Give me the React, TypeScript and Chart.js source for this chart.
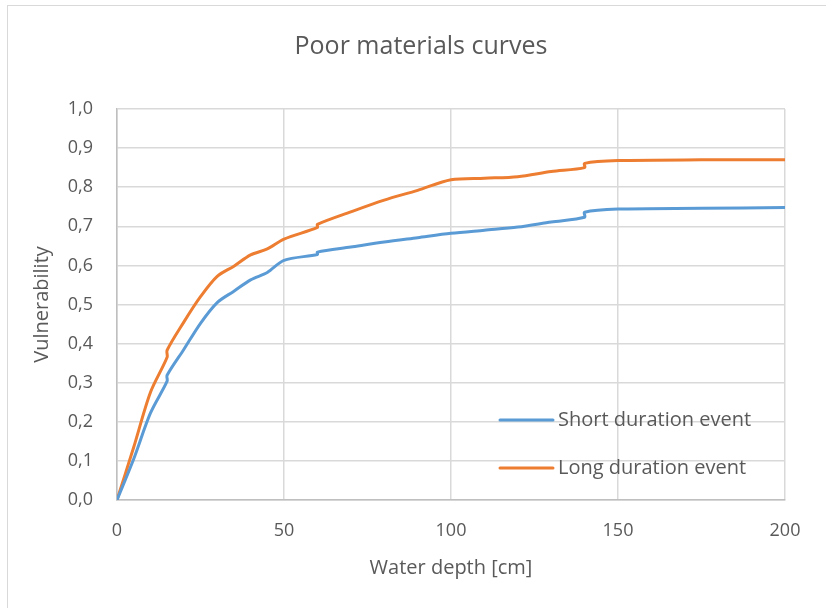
import React, { useEffect, useRef } from "react";
import { Chart, registerables } from "chart.js";

Chart.register(...registerables);

const TITLE = "Poor materials curves";
const X_TITLE = "Water depth [cm]";
const Y_TITLE = "Vulnerability";

const SHORT_LABEL = "Short duration event";
const SHORT_X = [0, 5, 10, 15, 15, 20, 25, 30, 35, 40, 45, 50, 60, 60, 70, 80, 90, 100, 110, 120, 130, 140, 140, 150, 175, 200];
const SHORT_Y = [0, 0.105, 0.222, 0.304, 0.319, 0.385, 0.452, 0.505, 0.534, 0.563, 0.582, 0.613, 0.628, 0.634, 0.647, 0.66, 0.671, 0.682, 0.69, 0.698, 0.711, 0.723, 0.736, 0.744, 0.746, 0.748];

const LONG_LABEL = "Long duration event";
const LONG_X = [0, 5, 10, 15, 15, 20, 25, 30, 35, 40, 45, 50, 60, 60, 70, 80, 90, 100, 110, 120, 130, 140, 140, 150, 175, 200];
const LONG_Y = [0, 0.135, 0.275, 0.365, 0.383, 0.455, 0.52, 0.572, 0.598, 0.627, 0.642, 0.667, 0.697, 0.705, 0.737, 0.767, 0.792, 0.819, 0.823, 0.827, 0.84, 0.85, 0.861, 0.868, 0.87, 0.87];

const X_TICKS = [0, 50, 100, 150, 200];
const Y_TICKS = [0, 0.1, 0.2, 0.3, 0.4, 0.5, 0.6, 0.7, 0.8, 0.9, 1.0];

const FONT = "'Open Sans', 'Noto Sans', sans-serif";
const TEXT_COLOR = "#595959";

const insideLegend = {
  id: "insideLegend",
  afterDraw(chart: any) {
    const ctx = chart.ctx;
    const area = chart.chartArea;
    ctx.save();
    chart.data.datasets.forEach((ds: any, i: number) => {
      const y = area.top + 311 + i * 48;
      const x0 = area.left + 383;
      ctx.strokeStyle = ds.borderColor;
      ctx.lineWidth = 3;
      ctx.lineCap = "round";
      ctx.beginPath();
      ctx.moveTo(x0, y);
      ctx.lineTo(x0 + 53, y);
      ctx.stroke();
      ctx.fillStyle = TEXT_COLOR;
      ctx.font = `20px ${FONT}`;
      ctx.textAlign = "left";
      ctx.textBaseline = "middle";
      ctx.fillText(ds.label, x0 + 58, y);
    });
    ctx.restore();
  },
};

export default function App() {
  const ref = useRef<HTMLCanvasElement>(null);
  useEffect(() => {
    if (!ref.current) return;
    const chart = new Chart(ref.current, {
      type: "line",
      data: {
        datasets: [
          {
            label: SHORT_LABEL,
            data: SHORT_X.map((x, i) => ({ x, y: SHORT_Y[i] })),
            borderColor: "#5B9BD5",
            backgroundColor: "#5B9BD5",
            borderWidth: 3,
            pointRadius: 0,
            tension: 0.3,
            fill: false,
          },
          {
            label: LONG_LABEL,
            data: LONG_X.map((x, i) => ({ x, y: LONG_Y[i] })),
            borderColor: "#ED7D31",
            backgroundColor: "#ED7D31",
            borderWidth: 3,
            pointRadius: 0,
            tension: 0.3,
            fill: false,
          },
        ],
      },
      options: {
        animation: false,
        responsive: false,
        maintainAspectRatio: false,
        layout: { padding: { left: 16, right: 0, top: 0, bottom: 0 } },
        plugins: {
          legend: { display: false },
          tooltip: { enabled: false },
          title: {
            display: true,
            text: TITLE,
            color: TEXT_COLOR,
            font: { family: FONT, size: 25, weight: "normal" },
            padding: { top: 32, bottom: 47 },
          },
        },
        scales: {
          x: {
            type: "linear",
            min: 0,
            max: 200,
            afterBuildTicks: (s: any) => {
              s.ticks = X_TICKS.map((v) => ({ value: v }));
            },
            afterFit: (s: any) => {
              s.height = 108;
            },
            grid: { color: "#d9d9d9", lineWidth: 1.5, drawTicks: false },
            border: { color: "#bfbfbf", width: 1.5 },
            ticks: {
              color: TEXT_COLOR,
              font: { family: FONT, size: 18 },
              padding: 20,
              maxRotation: 0,
            },
            title: {
              display: true,
              text: X_TITLE,
              color: TEXT_COLOR,
              font: { family: FONT, size: 20 },
              padding: { top: 0, bottom: 28 },
            },
          },
          y: {
            type: "linear",
            min: 0,
            max: 1,
            afterBuildTicks: (s: any) => {
              s.ticks = Y_TICKS.map((v) => ({ value: v }));
            },
            afterFit: (s: any) => {
              s.width = 101;
            },
            grid: { color: "#d9d9d9", lineWidth: 1.5, drawTicks: false },
            border: { color: "#bfbfbf", width: 1.5 },
            ticks: {
              color: TEXT_COLOR,
              font: { family: FONT, size: 18 },
              padding: 24,
              callback: (v: any) => Number(v).toFixed(1).replace(".", ","),
            },
            title: {
              display: true,
              text: Y_TITLE,
              color: TEXT_COLOR,
              font: { family: FONT, size: 20 },
              padding: { top: 14, bottom: 0 },
            },
          },
          yRightSpace: {
            type: "linear",
            position: "right",
            display: true,
            min: 0,
            max: 1,
            grid: { display: false, drawTicks: false },
            border: { display: false },
            ticks: { display: false },
            afterFit: (s: any) => {
              s.width = 41;
            },
          },
        },
      },
      plugins: [insideLegend],
    });
    return () => chart.destroy();
  }, []);

  return (
    <div style={{ position: "fixed", left: 0, top: 0, width: 826, height: 608, background: "#fff", overflow: "hidden" }}>
      <div
        style={{
          position: "absolute",
          left: 7,
          top: 5,
          width: 840,
          height: 640,
          border: "1px solid #d9d9d9",
          boxSizing: "border-box",
        }}
      />
      <canvas ref={ref} width={826} height={608} style={{ position: "absolute", left: 0, top: 0, width: 826, height: 608 }} />
    </div>
  );
}
